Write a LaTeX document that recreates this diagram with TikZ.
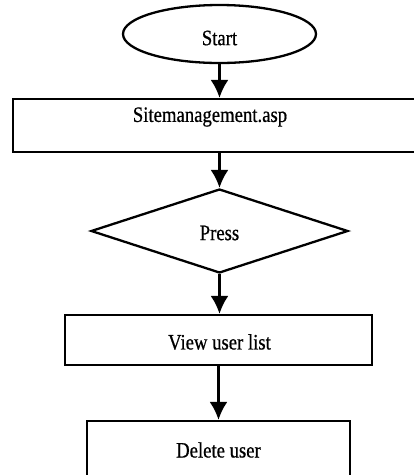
\documentclass[tikz,border=0pt]{standalone}
\usepackage{fontspec}
\setmainfont{Liberation Serif}[FakeStretch=0.85,FakeBold=0.6]
\usetikzlibrary{shapes.geometric,arrows.meta}
\begin{document}
\begin{tikzpicture}[x=1pt,y=-1pt,
  every node/.style={font=\fontsize{22}{24}\selectfont},
  shapebox/.style={draw=black,line width=2.3pt,inner sep=0pt,fill=white},
  lbl/.style={inner sep=0pt},
  flow/.style={line width=2.3pt,-{Latex[length=18pt,width=18pt]}}]
\useasboundingbox (0,0) rectangle (414,475);
\fill[white] (0,0) rectangle (414,475);
\node[shapebox,ellipse,minimum width=193pt,minimum height=58pt] (start) at (219.5,34) {};
\node[lbl] (startt) at (219.5,38) {Start};
\node[shapebox,rectangle,minimum width=412pt,minimum height=53pt] (site) at (219,125.5) {};
\node[lbl] (sitet) at (210,117) {Sitemanagement.asp};
\node[shapebox,diamond,minimum width=257pt,minimum height=84pt] (press) at (219.5,231) {};
\node[lbl] (presst) at (219.5,233) {Press};
\node[shapebox,rectangle,minimum width=307pt,minimum height=50pt] (view) at (218.5,340) {};
\node[lbl] (viewt) at (219.5,342) {View user list};
\node[shapebox,rectangle,minimum width=263pt,minimum height=70pt] (del) at (218.5,456) {};
\node[lbl] (delt) at (218.5,450) {Delete user};
\draw[flow] (start.south) -- (start.south |- site.north);
\draw[flow] (site.south -| press.north) -- (press.north);
\draw[flow] (press.south) -- (press.south |- view.north);
\draw[flow] (view.south) -- (del.north);
\end{tikzpicture}
\end{document}
